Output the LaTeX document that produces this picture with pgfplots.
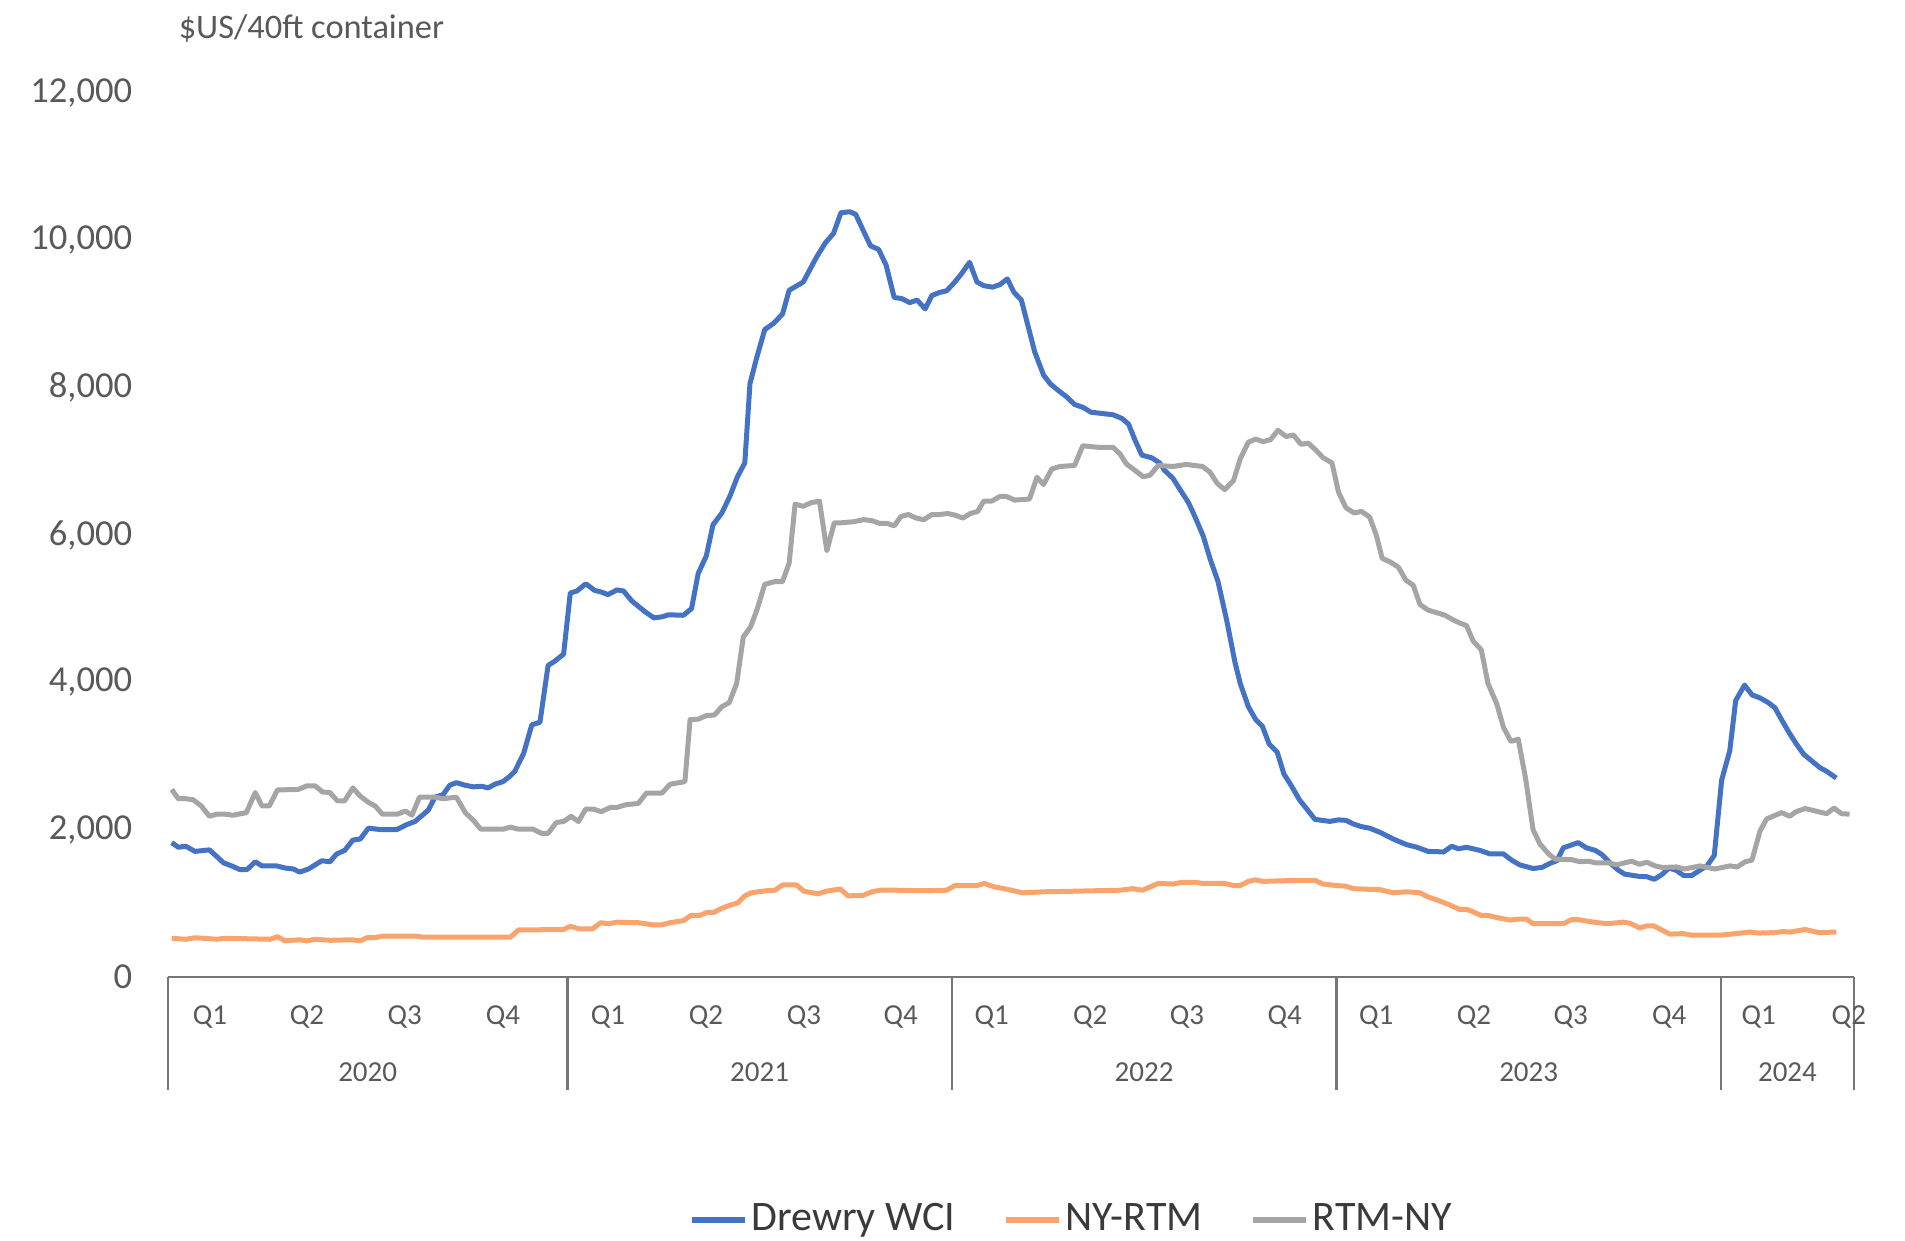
\documentclass[border=0pt]{standalone}
\usepackage{fontspec}
\setmainfont{Carlito}
\usepackage{pgfplots}
\pgfplotsset{compat=1.18}
\definecolor{cblue}{HTML}{4472C4}
\definecolor{corange}{HTML}{F9A36D}
\definecolor{cgray}{HTML}{A5A5A5}
\definecolor{tickgray}{HTML}{595959}
\definecolor{axgray}{HTML}{767676}
\definecolor{legtext}{HTML}{3A3A3A}
\begin{document}
\begin{tikzpicture}
\useasboundingbox (0,0) rectangle (476.25pt,310.25pt);
\node[anchor=west, inner sep=0pt, text=tickgray, font=\fontsize{8.6}{10}\selectfont] at (44.5pt,303.25pt) {\$US/40ft container};
\begin{axis}[
  at={(42pt,66pt)}, anchor=south west,
  scale only axis, width=421.5pt, height=221pt,
  xmin=-0.5, xmax=227.5, ymin=0, ymax=12000,
  axis x line*=bottom, axis y line*=left,
  y axis line style={draw=none},
  x axis line style={draw=axgray, line width=0.6pt},
  ytick={0,2000,4000,6000,8000,10000,12000},
  ytick style={draw=none},
  scaled y ticks=false,
  yticklabel style={font=\fontsize{9.15}{11}\selectfont, text=tickgray, anchor=east, inner sep=0pt, xshift=-8.75pt},
  /pgf/number format/1000 sep={,},
  /pgf/number format/assume math mode=true,
  tick align=outside,
  xtick={5.18,18.3,31.5,44.8,59.0,72.25,85.5,98.6,110.9,124.2,137.3,150.5,162.9,176.1,189.2,202.5,214.6,226.8},
  xticklabels={Q1,Q2,Q3,Q4,Q1,Q2,Q3,Q4,Q1,Q2,Q3,Q4,Q1,Q2,Q3,Q4,Q1,Q2},
  major tick length=0pt,
  minor xtick={-0.5,53.5,105.5,157.5,209.5,227.5},
  minor tick length=28.25pt,
  minor x tick style={draw=axgray, line width=0.6pt},
  xticklabel style={font=\fontsize{7.25}{9}\selectfont, text=tickgray, anchor=center, inner sep=0pt, yshift=-10pt},
  extra x ticks={26.5,79.5,131.5,183.5,218.5},
  extra x tick labels={2020,2021,2022,2023,2024},
  extra x tick style={major tick length=0pt, xticklabel style={yshift=-13.75pt}},
  legend style={at={(0.5365,-0.275)}, anchor=center, draw=none, fill=none, legend columns=3,
    font=\fontsize{10.5}{12}\selectfont, text=legtext, inner sep=0pt,
    nodes={inner sep=1pt, text=legtext},
    /tikz/every even column/.append style={column sep=11pt}},
  legend image code/.code={\draw[#1, line width=1.3pt] (0pt,0pt) -- (13.25pt,0pt);},
]
\addplot[cblue, line width=1.25pt, line join=round] coordinates {
(0,1824)(0.9,1761)(1.9,1775)(3.15,1705)(5.1,1726)(6.1,1635)(7,1550)(8.1,1508)(9.2,1459)(10.2,1459)(11.3,1564)(12.2,1508)(14.2,1508)(15.3,1480)(16.45,1466)(17.3,1424)(18.5,1466)(20.3,1578)(21.4,1564)(22.3,1670)(23.4,1719)(24.5,1859)(25.5,1873)(26.6,2020)(28.4,1999)(30.4,1999)(31.8,2069)(32.9,2111)(34.7,2265)(35.6,2441)(36.7,2476)(37.6,2603)(38.5,2638)(39.7,2603)(40.8,2581)(41.9,2589)(42.8,2567)(43.7,2617)(44.8,2652)(45.7,2722)
(46.4,2792)(47.6,3037)(48.7,3423)(49.8,3458)(50.9,4230)(51.8,4286)(53,4384)(53.9,5212)(54.8,5240)(56,5338)(57.2,5247)(58.1,5226)(59,5191)(60.2,5254)(61.1,5240)(62.2,5107)(63.3,5015)(64.2,4945)(65.2,4875)(66.3,4889)(67.2,4917)(69.2,4910)(70.3,5001)(71.2,5478)(72.3,5717)(73.2,6138)(74.4,6299)(75.5,6530)(76.5,6790)(77.5,6979)(78.2,8053)(79.1,8403)(80.2,8789)(81.4,8873)(82.6,8999)(83.5,9322)(85.4,9434)(87.2,9771)(88.4,9967)(89.5,10094)(90.5,10374)(91.7,10388)
(92.5,10353)(93.5,10136)(94.5,9925)(95.6,9876)(96.6,9666)(97.7,9224)(98.7,9210)(99.8,9154)(100.8,9189)(101.9,9069)(102.8,9252)(103.9,9294)(104.8,9315)(105.9,9434)(106.8,9546)(107.9,9701)(108.9,9434)(109.8,9385)(111,9364)(112,9399)(113,9476)(113.9,9294)(114.9,9189)(115.8,8838)(116.7,8487)(117.9,8172)(118.8,8052)(119.9,7961)(121,7877)(122.1,7772)(123.3,7730)(124.3,7667)(127.3,7632)(128.5,7582)(129.4,7505)(130.3,7281)(131.2,7084)(132.5,7049)(133.6,6979)(134.3,6874)(135.4,6769)(136.6,6579)
(137.5,6439)(138.4,6243)(139.5,5983)(140.4,5682)(141.5,5366)(142.7,4826)(143.8,4265)(144.5,3984)(145.6,3669)(146.6,3493)(147.5,3402)(148.4,3164)(149.5,3052)(150.4,2757)(151.5,2581)(152.5,2406)(153.5,2280)(154.6,2140)(156.6,2112)(157.8,2133)(158.8,2126)(159.8,2077)(160.9,2041)(162,2020)(163.4,1964)(165.2,1873)(167,1796)(168.4,1761)(169.9,1705)(172,1698)(173.1,1775)(174,1740)(175.1,1761)(176.9,1719)(178.3,1670)(180.1,1670)(181.2,1586)(182.3,1522)
(184.1,1473)(185.3,1487)(186.4,1543)(187.3,1578)(188.2,1754)(190.2,1824)(191.3,1754)(192.5,1719)(193.4,1663)(194.5,1550)(195.6,1452)(196.5,1396)(198.3,1368)(199.5,1361)(200.5,1326)(201.5,1389)(202.5,1480)(203.5,1445)(204.5,1375)(205.5,1375)(206.7,1452)(207.6,1508)(208.6,1649)(209.6,2673)(210.7,3073)(211.5,3753)(212.7,3963)(213.7,3830)(214.8,3788)(215.9,3725)(216.8,3655)(217.7,3493)(218.8,3304)(219.7,3164)(220.7,3023)(221.8,2932)(222.9,2841)(223.8,2792)(225.1,2701)
};
\addlegendentry{Drewry WCI}
\addplot[corange, line width=1.25pt, line join=round] coordinates {
(0,526)(1.9,512)(3.2,533)(6.1,512)(7.2,526)(13.3,512)(14.3,547)(15.3,491)(17.3,505)(18.3,491)(19.4,512)(21.4,498)(24.3,505)(25.5,491)(26.4,533)(27.5,533)(28.5,554)(33.1,554)(34,540)(45.8,540)(46.9,638)(53,645)(53.9,688)(55.2,652)(56.9,652)(58,737)(59.1,723)(60.2,744)(63.1,737)(65,709)(66.3,709)(67.4,737)(69.2,765)(70.2,835)(71.4,835)(72.4,877)(73.3,877)(74.4,933)(75.5,975)(76.5,1003)(77.5,1101)(78.4,1143)(79.3,1157)(80.5,1171)(81.6,1178)(82.6,1249)(84.5,1249)(85.5,1164)(87.4,1129)(88.5,1164)(90.4,1195)(91.5,1101)(93.5,1108)(94.7,1157)(95.8,1178)(98,1178)(101.6,1171)(104.8,1178)(105.9,1241)(108.9,1241)(109.9,1270)(111.1,1228)(112.9,1192)(115.1,1143)(118.1,1157)(121.9,1164)(128.2,1178)(130,1199)(131.3,1178)(133.4,1270)(135.4,1262)(136.6,1284)(138.4,1284)(139.5,1270)(142.4,1270)(143.6,1241)(144.5,1241)(145.6,1298)(146.5,1319)(147.6,1298)(149.9,1305)(152.6,1312)(154.6,1312)(155.7,1262)(157.5,1241)(158.7,1234)(159.8,1199)(163.4,1185)(165.2,1143)(167,1157)(168.8,1143)(169.9,1087)(171.3,1038)(172.9,975)(174.1,919)(175.1,919)(176,884)(177.1,835)(178,835)(179.2,807)(181,772)(182.1,786)(183.2,786)(184.1,723)(188.2,723)(189.3,779)(190.2,779)(192.3,744)(194.1,723)(196.3,744)(197.2,730)(198.5,666)(199.5,695)(200.4,695)(201.5,638)(202.6,582)(204.4,589)(205.5,568)(209.4,568)(211.6,589)(213.4,610)(214.6,596)(216.8,603)(217.9,617)(218.8,610)(220.9,645)(222.7,603)(225.1,610)
};
\addlegendentry{NY-RTM}
\addplot[cgray, line width=1.25pt, line join=round] coordinates {
(0,2546)(0.9,2420)(1.9,2420)(2.9,2406)(4,2322)(5.1,2182)(6.1,2210)(7.2,2210)(8.3,2196)(10.1,2231)(11.3,2504)(12.2,2322)(13.2,2322)(14.3,2539)(17.1,2546)(18.3,2595)(19.4,2595)(20.4,2511)(21.4,2504)(22.4,2392)(23.4,2392)(24.5,2567)(25.5,2455)(26.6,2371)(27.5,2322)(28.5,2210)(30.5,2210)(31.6,2252)(32.5,2196)(33.5,2441)(35.6,2441)(36.7,2420)(38.5,2441)(39.7,2231)(40.8,2126)(41.8,2006)(44.8,2006)(45.8,2034)(46.9,2006)(48.9,2006)(50,1950)(50.9,1950)(52,2097)(53,2111)(54,2182)(55,2111)(56,2280)(57,2280)(58.1,2245)(59.3,2301)(60.2,2301)(61.3,2336)(63.1,2357)(64.2,2497)(66.3,2497)(67.4,2616)(69.4,2652)(70.1,3493)(71.2,3500)(72.3,3549)(73.4,3556)(74.4,3669)(75.4,3725)(76.4,3984)(77.3,4616)(78.3,4756)(79.2,5001)(80.2,5331)(81.5,5366)(82.6,5366)(83.5,5619)(84.3,6418)(85.4,6390)(86.5,6439)(87.6,6460)(88.6,5787)(89.6,6166)(90.6,6166)(92.2,6180)(93.6,6208)(94.7,6194)(95.7,6159)(96.7,6159)(97.7,6124)(98.6,6250)(99.6,6278)(100.7,6229)(101.7,6208)(102.8,6278)(103.9,6278)(104.9,6292)(105.9,6271)(107,6229)(108,6292)(109,6320)(109.8,6460)(110.9,6460)(112,6523)(112.9,6523)(114,6474)(116,6488)(117,6783)(117.9,6685)(119,6895)(120.1,6930)(122.1,6944)(123.2,7211)(125.3,7190)(127.3,7190)(128.2,7105)(129.1,6965)(130.3,6874)(131.4,6790)(132.3,6811)(133.4,6944)(135.4,6930)(137.2,6958)(139.4,6930)(140.4,6853)(141.4,6699)(142.4,6615)(143.6,6741)(144.5,7035)(145.6,7260)(146.6,7302)(147.6,7267)(148.6,7295)(149.6,7421)(150.7,7337)(151.7,7358)(152.7,7232)(153.7,7246)(154.7,7155)(155.7,7049)(156.9,6979)(157.8,6579)(158.8,6369)(159.9,6299)(160.9,6320)(162,6243)(162.9,5997)(163.7,5682)(164.8,5633)(165.9,5562)(166.9,5387)(167.9,5317)(168.8,5057)(169.9,4980)(171.1,4945)(172.2,4910)(173.3,4847)(174.2,4805)(175.1,4770)(176,4559)(177.1,4440)(178,3984)(179.2,3704)(180.1,3388)(181.1,3199)(182.1,3227)(183.1,2687)(184.1,1999)(185,1810)(186.2,1670)(187.1,1600)(189.3,1593)(190.4,1565)(191.6,1572)(192.5,1550)(194.3,1550)(195.4,1522)(197.4,1572)(198.5,1530)(199.5,1558)(200.6,1508)(201.6,1487)(203.5,1494)(204.6,1466)(206.7,1508)(208.7,1466)(210.7,1508)(211.7,1494)(212.8,1565)(213.7,1586)(214.8,1985)(215.7,2147)(217.7,2231)(218.8,2182)(219.7,2245)(220.9,2287)(223.8,2217)(224.8,2294)(225.8,2217)(226.9,2210)
};
\addlegendentry{RTM-NY}
\end{axis}
\end{tikzpicture}
\end{document}
